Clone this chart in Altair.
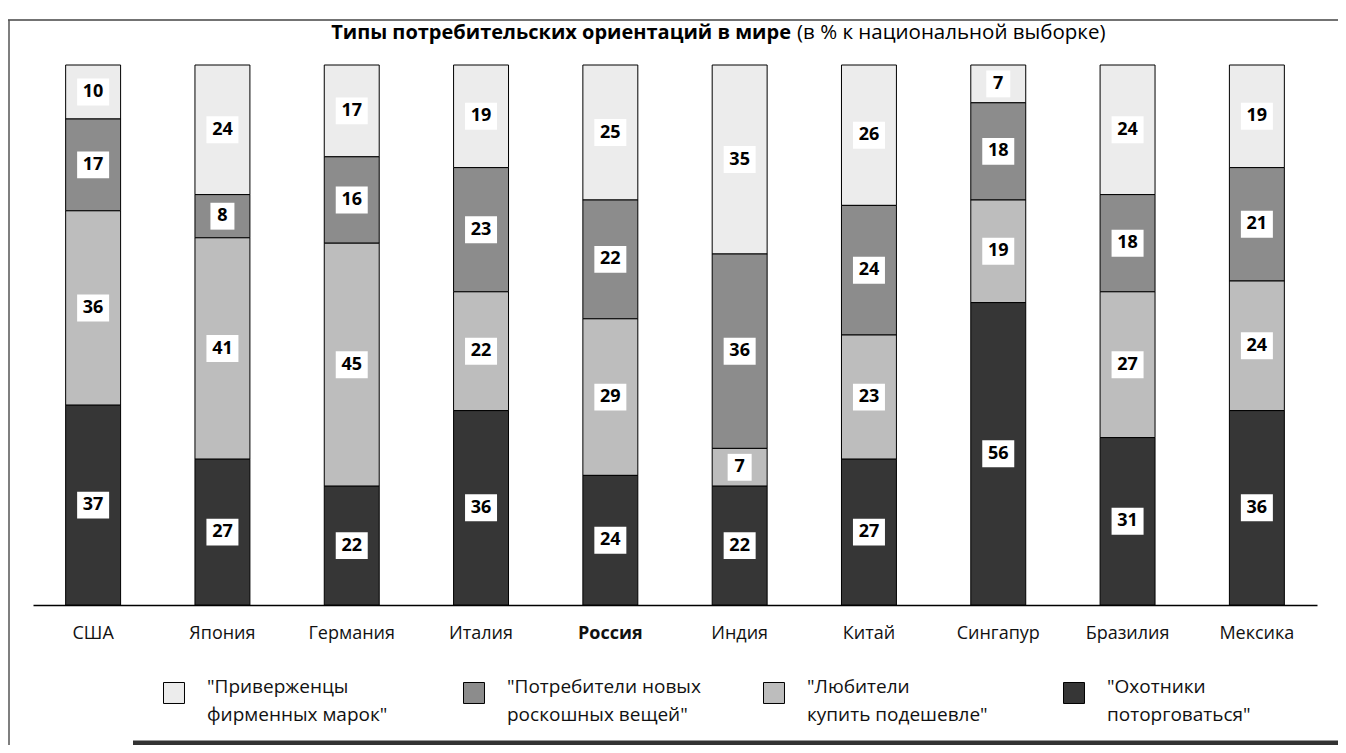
import altair as alt
import pandas as pd

countries = ["США", "Япония", "Германия", "Италия", "Россия", "Индия", "Китай", "Сингапур", "Бразилия", "Мексика"]
groups = ['"Приверженцы|фирменных марок"', '"Потребители новых|роскошных вещей"',
          '"Любители|купить подешевле"', '"Охотники|поторговаться"']
brand = [10, 24, 17, 19, 25, 35, 26, 7, 24, 19]
luxury = [17, 8, 16, 23, 22, 36, 24, 18, 18, 21]
cheap = [36, 41, 45, 22, 29, 7, 23, 19, 27, 24]
bargain = [37, 27, 22, 36, 24, 22, 27, 56, 31, 36]
colors = ["#ececec", "#8c8c8c", "#bdbdbd", "#363636"]

rows = []
series = [brand, luxury, cheap, bargain]
stack_rank = [3, 2, 1, 0]
for gi, g in enumerate(groups):
    for ci, c in enumerate(countries):
        rows.append({"country": c, "group": g, "value": series[gi][ci], "rank": stack_rank[gi]})
df = pd.DataFrame(rows)

FONT = "Open Sans"
WIDE_BOX = "M-1,-0.84L1,-0.84L1,0.84L-1,0.84Z"
NARROW_BOX = "M-0.75,-0.84L0.75,-0.84L0.75,0.84L-0.75,0.84Z"

x_enc = alt.X("country:N", sort=countries, title=None,
              scale=alt.Scale(paddingInner=0.575, paddingOuter=0.2525),
              axis=alt.Axis(domainColor="black", domainWidth=1.5, ticks=False, labelAngle=0, grid=False,
                            labelPadding=19, labelFontSize=18, labelFont=FONT, labelColor="#111",
                            labelFontWeight=alt.ExprRef("datum.value == 'Россия' ? 'bold' : 'normal'")))
y_scale = alt.Scale(domain=[0, 100])

bars = alt.Chart(df).mark_bar(stroke="black", strokeWidth=1).encode(
    x=x_enc,
    y=alt.Y("value:Q", stack="zero", scale=y_scale, axis=None),
    color=alt.Color("group:N", sort=groups,
                    scale=alt.Scale(domain=groups, range=colors),
                    legend=alt.Legend(title=None, orient="none", legendX=130, legendY=617,
                                      direction="horizontal", columns=4, columnPadding=60,
                                      gridAlign="all",
                                      symbolType="square", symbolSize=440, symbolStrokeColor="black",
                                      symbolStrokeWidth=1, labelFontSize=19, labelFont=FONT,
                                      labelColor="#111", labelOffset=22, labelLimit=400,
                                      labelBaseline="alphabetic",
                                      labelExpr="split(datum.label, '|')")),
    order=alt.Order("rank:Q", sort="ascending"),
)

base_lbl = alt.Chart(df).transform_stack(
    stack="value", groupby=["country"], as_=["y0", "y1"], sort=[alt.SortField("rank", order="ascending")]
).transform_calculate(
    mid="(datum.y0 + datum.y1) / 2",
    box=f"datum.value < 10 ? '{NARROW_BOX}' : '{WIDE_BOX}'",
)

boxes = base_lbl.mark_point(filled=True, fill="white", opacity=1, strokeWidth=0, size=1024).encode(
    x=alt.X("country:N", sort=countries),
    y=alt.Y("mid:Q", scale=y_scale, axis=None),
    shape=alt.Shape("box:N", scale=None, legend=None),
)
texts = base_lbl.mark_text(font=FONT, fontSize=18, fontWeight="bold", color="black", baseline="middle").encode(
    x=alt.X("country:N", sort=countries),
    y=alt.Y("mid:Q", scale=y_scale, axis=None),
    text="value:Q",
)

title_df = pd.DataFrame({"t": ["Типы потребительских ориентаций в мире"]})
title_b = alt.Chart(title_df).mark_text(font=FONT, fontSize=20, fontWeight="bold", align="right",
                                         baseline="middle", color="black").encode(
    x=alt.value(758), y=alt.value(-32), text="t:N")
title_df2 = pd.DataFrame({"t": ["(в % к национальной выборке)"]})
title_n = alt.Chart(title_df2).mark_text(font=FONT, fontSize=20.5, align="left",
                                          baseline="middle", color="black").encode(
    x=alt.value(764), y=alt.value(-32), text="t:N")

frame_top = alt.Chart(title_df).mark_rule(color="#444", strokeWidth=1.5).encode(
    x=alt.value(-25), x2=alt.value(1305), y=alt.value(-45))
frame_left = alt.Chart(title_df).mark_rule(color="#555", strokeWidth=1.5).encode(
    x=alt.value(-24), y=alt.value(-45), y2=alt.value(680))
frame_bottom = alt.Chart(title_df).mark_rule(color="#333", strokeWidth=5).encode(
    x=alt.value(100), x2=alt.value(1305), y=alt.value(678))

chart = alt.layer(bars, boxes, texts, title_b, title_n, frame_top, frame_left, frame_bottom).resolve_scale(
    color="independent"
).properties(
    width=1284, height=540,
    autosize=alt.AutoSizeParams(type="none"),
    padding={"left": 25, "top": 57, "right": 21, "bottom": 140},
).configure(
    background="white",
    style={"guide-label": {"lineHeight": 28}},
).configure_view(stroke=None)

chart.save("out.html", embed_options={"renderer": "svg", "actions": False})
